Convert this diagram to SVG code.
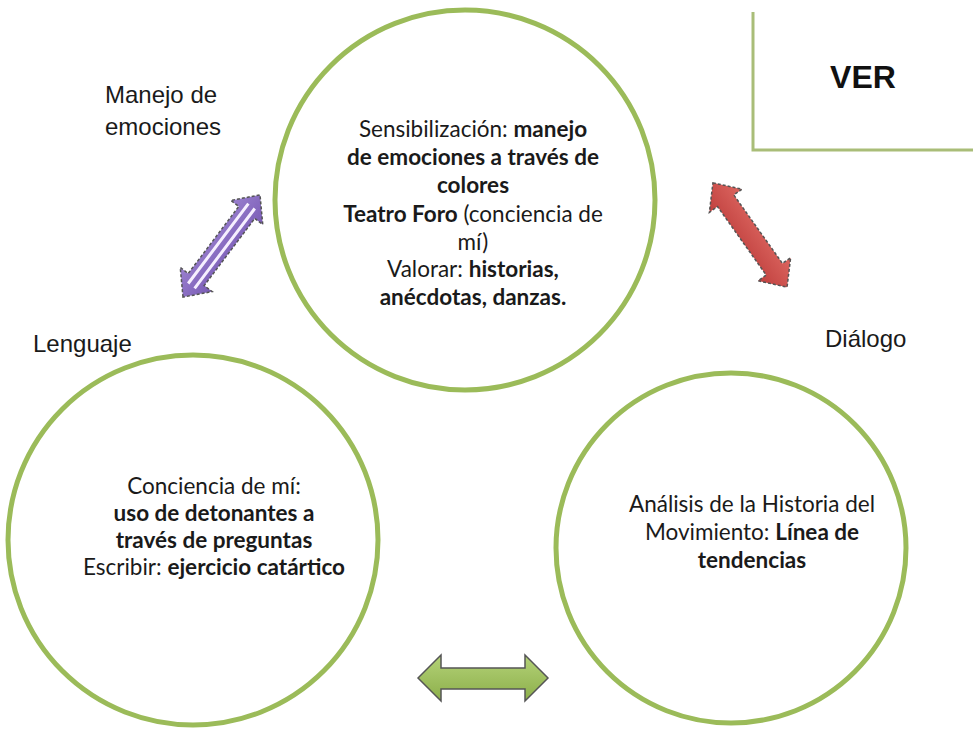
<svg xmlns="http://www.w3.org/2000/svg" width="973" height="735" viewBox="0 0 973 735">
<defs>
<style>
.c{fill:#fff;stroke:#9bbb59;stroke-width:5}
.t{font-family:Lato,"Open Sans",sans-serif;font-size:22.5px;fill:#1a1a1a;text-anchor:middle}
.b{font-weight:bold}
.l{font-family:"Liberation Sans",Arial,sans-serif;font-size:24px;fill:#1a1a1a}
.ar{stroke:#555;stroke-width:1.5;stroke-dasharray:3,2}
</style>
<linearGradient id="gp" x1="0" y1="0" x2="0" y2="1"><stop offset="0" stop-color="#9a80cf"/><stop offset="1" stop-color="#7a5cb5"/></linearGradient>
<linearGradient id="gr" x1="0" y1="0" x2="0" y2="1"><stop offset="0" stop-color="#dc6660"/><stop offset="1" stop-color="#c0403e"/></linearGradient>
<linearGradient id="gg" x1="0" y1="0" x2="0" y2="1"><stop offset="0" stop-color="#b4d278"/><stop offset="1" stop-color="#8caf4a"/></linearGradient>
<path id="dbl" d="M-64,0 L-42,-20 L-42,-10 L42,-10 L42,-20 L64,0 L42,20 L42,10 L-42,10 L-42,20 Z"/>
</defs>
<rect width="973" height="735" fill="#fff"/>
<g id="ver">
<path d="M753,12 L753,150 L973,150" fill="none" stroke="#a9bd78" stroke-width="3"/>
<text x="863" y="88" font-family="'Liberation Sans',Arial,sans-serif" font-size="32" font-weight="bold" text-anchor="middle" fill="#111">VER</text>
</g>
<g id="labels">
<text class="l" x="105" y="103">Manejo de</text>
<text class="l" x="105" y="135">emociones</text>
<text class="l" x="33" y="352">Lenguaje</text>
<text class="l" x="825" y="347">Diálogo</text>
</g>
<g id="connectors">
<g transform="translate(221.5,246) rotate(-53)">
<use href="#dbl" class="ar" fill="url(#gp)"/>
<path d="M-50,-4 L50,-4 M-50,4 L50,4" stroke="#f6efff" stroke-width="3" fill="none"/>
</g>
<g transform="translate(750,235) rotate(54.6)">
<use href="#dbl" class="ar" fill="url(#gr)"/>
</g>
<g transform="translate(483,678)">
<path d="M-65,0 L-42,-23 L-42,-10 L42,-10 L42,-23 L65,0 L42,23 L42,11 L-42,11 L-42,23 Z" fill="url(#gg)" stroke="#555" stroke-width="1.5"/>
</g>
</g>
<g id="top">
<circle class="c" cx="465" cy="200" r="190"/>
<text class="t" x="473" y="137">Sensibilización: <tspan class="b">manejo</tspan></text>
<text class="t b" x="473" y="165">de emociones a través de</text>
<text class="t b" x="473" y="193">colores</text>
<text class="t" x="473" y="222"><tspan class="b">Teatro Foro</tspan> (conciencia de</text>
<text class="t" x="473" y="250">mí)</text>
<text class="t" x="473" y="277">Valorar: <tspan class="b">historias,</tspan></text>
<text class="t b" x="473" y="305">anécdotas, danzas.</text>
</g>
<g id="left">
<circle class="c" cx="193" cy="540" r="185"/>
<text class="t" x="214" y="494">Conciencia de mí:</text>
<text class="t b" x="214" y="521">uso de detonantes a</text>
<text class="t b" x="214" y="548">través de preguntas</text>
<text class="t" x="214" y="575">Escribir: <tspan class="b">ejercicio catártico</tspan></text>
</g>
<g id="right">
<circle class="c" cx="731" cy="548" r="175"/>
<text class="t" x="752" y="512">Análisis de la Historia del</text>
<text class="t" x="752" y="540">Movimiento: <tspan class="b">Línea de</tspan></text>
<text class="t b" x="752" y="568">tendencias</text>
</g>
</svg>
